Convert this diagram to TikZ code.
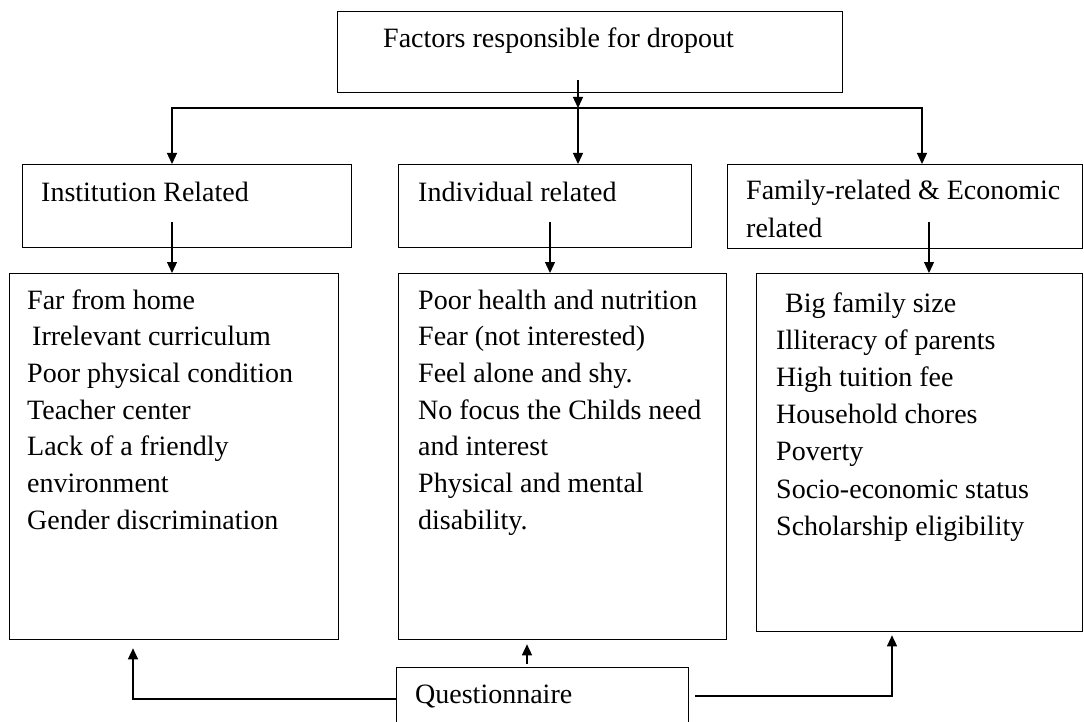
\documentclass[tikz,border=0pt]{standalone}
\usepackage{fontspec}
\setmainfont{Liberation Serif}
\usetikzlibrary{arrows.meta}
\begin{document}
\begin{tikzpicture}[x=1pt,y=-1pt,
  boxnode/.style={draw=black,line width=1.3pt,inner sep=0pt,anchor=north west,fill=none},
  txt/.style={anchor=base west,inner sep=0pt,font=\fontsize{28}{36}\selectfont,text=black},
  conn/.style={draw=black,line width=1.3pt},
  arr/.style={conn,-{Triangle[length=11pt,width=10pt]}}]
\useasboundingbox[fill=white] (0,0) rectangle (1084,722);

% boxes
\node[boxnode,minimum width=505pt,minimum height=81pt] (top) at (337,11) {};
\node[boxnode,minimum width=329pt,minimum height=83pt] (b1) at (22,164) {};
\node[boxnode,minimum width=293pt,minimum height=83pt] (b2) at (398,164) {};
\node[boxnode,minimum width=355pt,minimum height=84pt] (b3) at (727,164) {};
\node[boxnode,minimum width=329pt,minimum height=366pt] (l1) at (9,273) {};
\node[boxnode,minimum width=328pt,minimum height=366pt] (l2) at (398,273) {};
\node[boxnode,minimum width=326pt,minimum height=358pt] (l3) at (756,273) {};
\node[boxnode,minimum width=292pt,minimum height=70pt] (q) at (396,667) {};

% titles
\node[txt] (ttop) at (383,48) {Factors responsible for dropout};
\node[txt] (tb1) at (41,202) {Institution Related};
\node[txt] (tb2) at (418,202) {Individual related};
\node[txt] (tb3a) at (746,200) {Family-related \& Economic};
\node[txt] (tb3b) at (746,237) {related};
\node[txt] (tq) at (415,703) {Questionnaire};

% lists
\node[txt] (la1) at (27,309) {Far from home};
\node[txt] (la2) at (32,345.7) {Irrelevant curriculum};
\foreach \t [count=\i from 3] in {Poor physical condition,Teacher center,Lack of a friendly,environment,Gender discrimination}
  \node[txt] (la\i) at (27,{309+(\i-1)*36.7}) {\t};
\foreach \t [count=\i] in {Poor health and nutrition,Fear (not interested),Feel alone and shy.,No focus the Childs need,and interest,Physical and mental,disability.}
  \node[txt] (lb\i) at (418,{309+(\i-1)*36.7}) {\t};
\node[txt] (lc1) at (785,312) {Big family size};
\foreach \t [count=\i from 2] in {Illiteracy of parents,High tuition fee,Household chores,Poverty,Socio-economic status,Scholarship eligibility}
  \node[txt] (lc\i) at (776,{312+(\i-1)*37.2}) {\t};

% top connectors
\coordinate (ts) at (578,80);
\coordinate (j) at (578,108);
\coordinate (jl) at (172,108);
\coordinate (jr) at (922,108);
\draw[arr] (ts) -- (j);
\draw[arr] (j) -| (jl |- b1.north);
\draw[arr] (j) -- (j |- b2.north);
\draw[arr] (j) -| (jr |- b3.north);

% middle connectors
\coordinate (s1) at (172,222);
\coordinate (s2) at (550,222);
\coordinate (s3) at (929,222);
\draw[arr] (s1) -- (s1 |- l1.north);
\draw[arr] (s2) -- (s2 |- l2.north);
\draw[arr] (s3) -- (s3 |- l3.north);

% bottom connectors
\coordinate (c1) at (133,699);
\coordinate (qm) at (527,664);
\coordinate (c3s) at (695,696);
\coordinate (c3) at (892,696);
\draw[arr] (q.west |- c1) -| ([yshift=-8pt]c1 |- l1.south);
\draw[arr] (qm) -- ([yshift=-4pt]qm |- l2.south);
\draw[arr] (c3s) -| ([yshift=-3pt]c3 |- l3.south);
\end{tikzpicture}
\end{document}
